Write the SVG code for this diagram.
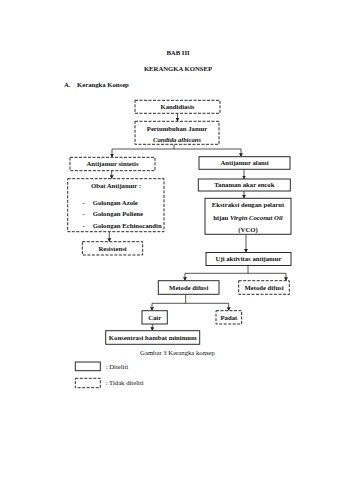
<svg xmlns="http://www.w3.org/2000/svg" width="339" height="480" viewBox="0 0 339 480">
<defs>
<marker id="ah" markerWidth="4" markerHeight="4" refX="3.5" refY="2" orient="auto" markerUnits="userSpaceOnUse">
<path d="M0,0 L3.5,2 L0,4 Z" fill="#222"/>
</marker>
<style>
text{font-family:"Liberation Serif","Times New Roman",serif;font-size:6.7px;fill:#111}
.b{font-weight:bold}
.c{text-anchor:middle}
.s{fill:#fff;stroke:#2a2a2a;stroke-width:1}
.d{fill:#fff;stroke:#2a2a2a;stroke-width:1;stroke-dasharray:3 1.5}
.ln{fill:none;stroke:#2a2a2a;stroke-width:0.8}
</style>
</defs>
<rect width="339" height="480" fill="#fff"/>
<g id="header">
<text class="b c" x="178" y="55">BAB III</text>
<text class="b c" x="178" y="71">KERANGKA KONSEP</text>
<text class="b" x="64" y="86.5">A.</text>
<text class="b" x="77" y="86.5">Kerangka Konsep</text>
</g>
<g id="connectors">
<line class="ln" x1="177.5" y1="113.3" x2="177.5" y2="121.3" marker-end="url(#ah)"/>
<polyline class="ln" points="174,144.3 174,149"/>
<polyline class="ln" points="112,149 241,149"/>
<line class="ln" x1="112" y1="149" x2="112" y2="157.3" marker-end="url(#ah)"/>
<line class="ln" x1="241" y1="149" x2="241" y2="156.7" marker-end="url(#ah)"/>
<line class="ln" x1="111.7" y1="170.7" x2="111.7" y2="178.7" marker-end="url(#ah)"/>
<line class="ln" x1="109.3" y1="231.7" x2="109.3" y2="241.7" marker-end="url(#ah)"/>
<line class="ln" x1="244" y1="169.3" x2="244" y2="179" marker-end="url(#ah)"/>
<line class="ln" x1="244" y1="191" x2="244" y2="198.3" marker-end="url(#ah)"/>
<line class="ln" x1="246" y1="234.3" x2="246" y2="252.5" marker-end="url(#ah)"/>
<polyline class="ln" points="248,265.5 248,273.3"/>
<polyline class="ln" points="185,273.3 286,273.3"/>
<line class="ln" x1="185" y1="273.3" x2="185" y2="280.7" marker-end="url(#ah)"/>
<line class="ln" x1="286" y1="273.3" x2="286" y2="280.7" marker-end="url(#ah)"/>
<polyline class="ln" points="185.7,294.3 185.7,303.3"/>
<polyline class="ln" points="152,303.3 228.7,303.3"/>
<line class="ln" x1="152" y1="303.3" x2="152" y2="310.7" marker-end="url(#ah)"/>
<line class="ln" x1="228.7" y1="303.3" x2="228.7" y2="310.7" marker-end="url(#ah)"/>
<line class="ln" x1="152.3" y1="324" x2="152.3" y2="330.7" marker-end="url(#ah)"/>
</g>
<g id="kandidiasis">
<rect class="d" x="135" y="100.3" width="85" height="13"/>
<text class="b c" x="177.5" y="109">Kandidiasis</text>
</g>
<g id="pertumbuhan">
<rect class="d" x="135" y="121.3" width="84" height="23"/>
<text class="b c" x="177" y="131">Pertumbuhan Jamur</text>
<text class="b c" x="177" y="142" font-style="italic">Candida albicans</text>
</g>
<g id="antijamur-sintetis">
<rect class="d" x="70" y="157.3" width="85" height="13.4"/>
<text class="b c" x="112.5" y="166.3">Antijamur sintetis</text>
</g>
<g id="antijamur-alami">
<rect class="s" x="199" y="156.7" width="91" height="12.6"/>
<text class="b c" x="244.5" y="165.3">Antijamur alami</text>
</g>
<g id="obat-antijamur">
<rect class="d" x="67.7" y="178.7" width="96.3" height="53"/>
<text class="b c" x="116" y="188">Obat Antijamur :</text>
<text class="b" x="82.5" y="204.5">-</text>
<text class="b" x="92.7" y="204.5">Golongan Azole</text>
<text class="b" x="82.5" y="216.2">-</text>
<text class="b" x="92.7" y="216.2">Golongan Poliene</text>
<text class="b" x="82.5" y="227.9">-</text>
<text class="b" x="92.7" y="227.9">Golongan Echinocandin</text>
</g>
<g id="resistensi">
<rect class="d" x="82.3" y="241.7" width="60.4" height="13.3"/>
<text class="b c" x="112.5" y="250.6">Resistensi</text>
</g>
<g id="tanaman">
<rect class="s" x="198.3" y="179" width="92" height="12"/>
<text class="b c" x="244.3" y="187.3">Tanaman akar encok</text>
</g>
<g id="ekstraksi">
<rect class="s" x="205" y="198.3" width="86" height="36"/>
<text class="b c" x="248" y="207.3">Ekstraksi dengan pelarut</text>
<text class="b c" x="248" y="219.5">hijau <tspan font-style="italic">Virgin Coconut Oil</tspan></text>
<text class="b c" x="248" y="231.5">(VCO)</text>
</g>
<g id="uji">
<rect class="s" x="206" y="252.5" width="85" height="13"/>
<text class="b c" x="248.5" y="261.3">Uji aktivitas antijamur</text>
</g>
<g id="metode-difusi-1">
<rect class="s" x="158.3" y="280.7" width="60.7" height="13.6"/>
<text class="b c" x="188.7" y="289.8">Metode difusi</text>
</g>
<g id="metode-difusi-2">
<rect class="d" x="238.7" y="280.7" width="50.6" height="13.6"/>
<text class="b c" x="264" y="289.8">Metode difusi</text>
</g>
<g id="cair">
<rect class="s" x="142" y="310.7" width="25.3" height="13.3"/>
<text class="b c" x="154.7" y="319.6">Cair</text>
</g>
<g id="padat">
<rect class="d" x="216" y="310.7" width="25.7" height="13.3"/>
<text class="b c" x="228.9" y="319.6">Padat</text>
</g>
<g id="konsentrasi">
<rect class="s" x="105.7" y="330.7" width="94" height="13.6"/>
<text class="b c" x="152.7" y="339.8">Konsentrasi hambat minimum</text>
</g>
<g id="caption">
<text class="c" x="177.5" y="354.6">Gambar 3 Kerangka konsep</text>
</g>
<g id="legend">
<rect class="s" x="75.3" y="362" width="25" height="8.7"/>
<text x="105.7" y="368.8">: Diteliti</text>
<rect class="d" x="75.3" y="378.3" width="25" height="9.4"/>
<text x="105.7" y="385.2">: Tidak diteliti</text>
</g>
</svg>
